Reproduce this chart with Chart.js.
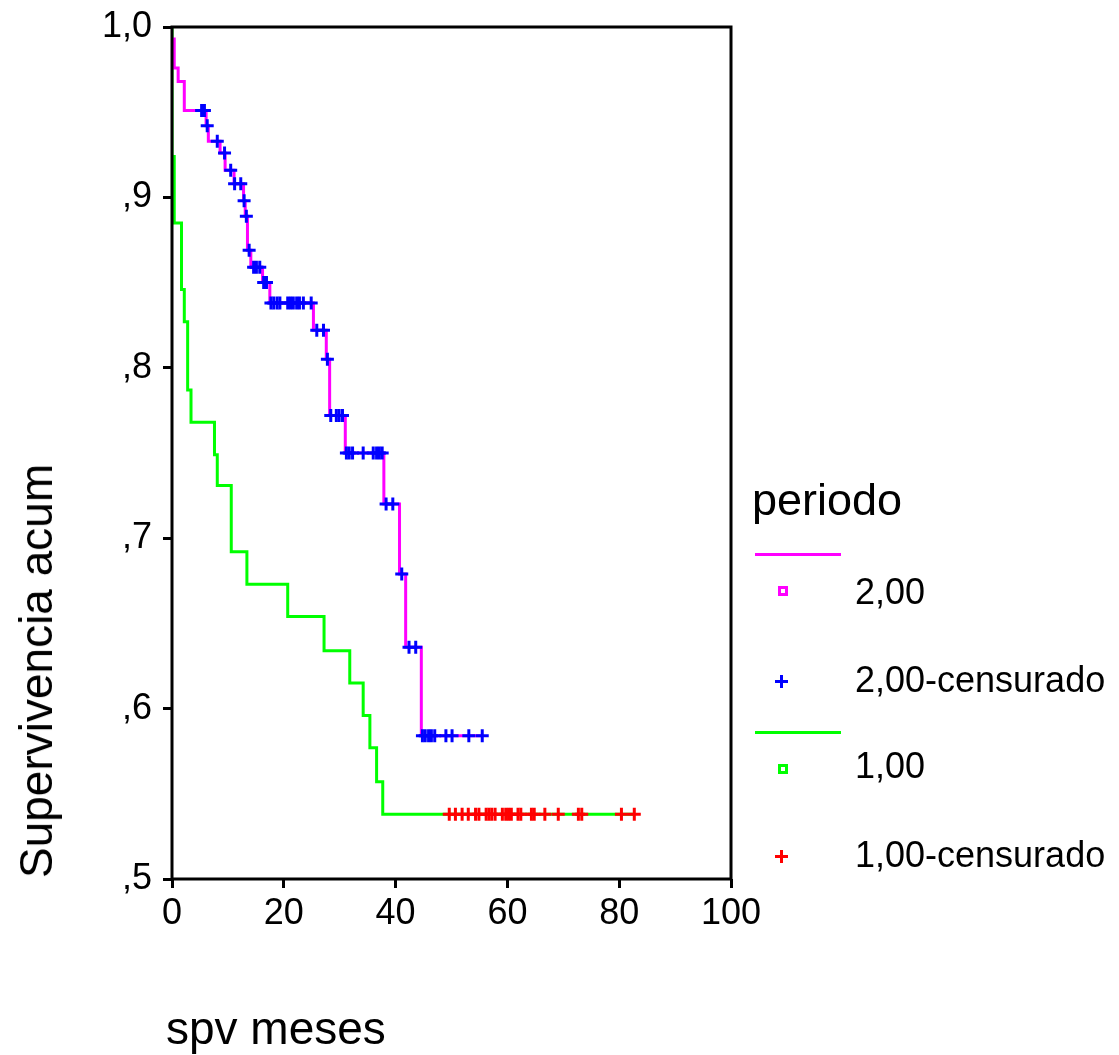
<!DOCTYPE html>
<html>
<head>
<meta charset="utf-8">
<script src="https://cdn.jsdelivr.net/npm/chart.js@4"></script>
<style>
  body { margin: 0; background: #fff; }
  #wrap { position: relative; width: 1119px; height: 1055px; font-family: 'Liberation Sans', Arial, sans-serif; color: #000; }
  canvas { position: absolute; left: 0; top: 0; }
  .txt { position: absolute; white-space: nowrap; line-height: 1; }
  .sym { position: absolute; }
</style>
</head>
<body>
<div id="wrap">
  <canvas id="km" width="1119" height="1055"></canvas>
  <div class="txt" id="ytitle" style="font-size:46px;left:36px;top:671px;transform:translate(-50%,-50%) rotate(-90deg);">Supervivencia acum</div>
  <div class="txt" style="font-size:46px;left:166px;top:1005px;">spv meses</div>

  <div class="txt" style="font-size:45px;left:752px;top:477px;">periodo</div>
  <div class="sym" style="left:755px;top:553px;width:86px;height:3px;background:#ff00ff;"></div>
  <div class="sym" style="left:778px;top:586px;width:4px;height:4px;border:3px solid #ff00ff;"></div>
  <div class="txt" style="font-size:36px;left:855px;top:574px;">2,00</div>
  <div class="sym" style="left:775px;top:680px;width:13px;height:3px;background:#0000ff;"></div>
  <div class="sym" style="left:780px;top:675px;width:3px;height:13px;background:#0000ff;"></div>
  <div class="txt" style="font-size:36px;left:855px;top:662px;">2,00-censurado</div>
  <div class="sym" style="left:755px;top:731px;width:86px;height:3px;background:#00ff00;"></div>
  <div class="sym" style="left:778px;top:764px;width:4px;height:4px;border:3px solid #00ff00;"></div>
  <div class="txt" style="font-size:36px;left:855px;top:748px;">1,00</div>
  <div class="sym" style="left:775px;top:855px;width:13px;height:3px;background:#ff0000;"></div>
  <div class="sym" style="left:780px;top:850px;width:3px;height:13px;background:#ff0000;"></div>
  <div class="txt" style="font-size:36px;left:855px;top:837px;">1,00-censurado</div>
</div>
<script>
// --- datos (meses, supervivencia acumulada) ---
const xTickLabels = ['0', '20', '40', '60', '80', '100'];
const yTickValues = [0.5, 0.6, 0.7, 0.8, 0.9, 1.0];
const yTickLabels = [',5', ',6', ',7', ',8', ',9', '1,0'];

// periodo 2,00
const pinkTimes = [0, 0.4, 1.1, 2.2, 6.1, 6.5, 8.6, 9.5, 11.1, 12.8, 13.1, 13.5, 14.1, 16.2, 17.5, 25.3, 27.6, 28.2, 31.0, 37.9, 40.7, 41.8, 44.6, 55.5];
const pinkSurv = [0.993, 0.976, 0.968, 0.951, 0.942, 0.933, 0.926, 0.916, 0.908, 0.898, 0.889, 0.869, 0.859, 0.850, 0.838, 0.822, 0.805, 0.772, 0.750, 0.720, 0.679, 0.636, 0.584, 0.584];

// periodo 2,00 censurados
const blueTimes = [5.3, 5.8, 6.3, 8.1, 9.4, 10.5, 11.2, 12.3, 12.9, 13.3, 13.8, 14.6, 15.1, 15.7, 16.4, 16.9,
  17.7, 18.2, 18.8, 19.3, 20.7, 21.2, 21.7, 22.3, 22.8, 23.5, 24.9, 25.9, 27.1, 27.8, 28.4, 29.4, 29.9, 30.5,
  31.2, 31.7, 32.3, 34.2, 36.0, 36.6, 37.1, 37.6, 38.3, 39.5, 41.1, 42.4, 43.6,
  44.8, 45.3, 45.9, 46.4, 47.0, 49.0, 50.1, 53.1, 55.5];
const blueSurv = [0.951, 0.951, 0.942, 0.933, 0.926, 0.916, 0.908, 0.908, 0.898, 0.889, 0.869, 0.859, 0.859, 0.859, 0.850, 0.850,
  0.838, 0.838, 0.838, 0.838, 0.838, 0.838, 0.838, 0.838, 0.838, 0.838, 0.838, 0.822, 0.822, 0.805, 0.772, 0.772, 0.772, 0.772,
  0.750, 0.750, 0.750, 0.750, 0.750, 0.750, 0.750, 0.750, 0.720, 0.720, 0.679, 0.636, 0.636,
  0.584, 0.584, 0.584, 0.584, 0.584, 0.584, 0.584, 0.584, 0.584];

// periodo 1,00
const greenTimes = [0, 0, 0.4, 1.7, 2.2, 2.8, 3.4, 7.6, 8.1, 10.6, 13.4, 20.7, 27.2, 31.8, 34.2, 35.4, 36.6, 37.7, 82.7];
const greenSurv = [1.0, 0.924, 0.885, 0.846, 0.827, 0.787, 0.768, 0.749, 0.731, 0.692, 0.673, 0.654, 0.634, 0.615, 0.596, 0.577, 0.557, 0.538, 0.538];

// periodo 1,00 censurados
const redTimes = [49.6, 50.7, 51.9, 53.0, 54.3, 54.9, 56.2, 56.7, 57.2, 57.8, 59.1, 59.7, 60.2, 60.7, 61.9, 62.4, 64.3, 64.8, 66.7, 69.1, 72.7, 73.3, 80.4, 82.7];
const redSurv = [0.538, 0.538, 0.538, 0.538, 0.538, 0.538, 0.538, 0.538, 0.538, 0.538, 0.538, 0.538, 0.538, 0.538, 0.538, 0.538, 0.538, 0.538, 0.538, 0.538, 0.538, 0.538, 0.538, 0.538];

function pts(xs, ys) { return xs.map((x, i) => ({ x: x, y: ys[i] })); }

// marco negro alrededor del área
const framePlugin = {
  id: 'frame',
  afterDatasetsDraw(chart) {
    const a = chart.chartArea, ctx = chart.ctx;
    ctx.save();
    ctx.strokeStyle = '#000';
    ctx.lineWidth = 3;
    ctx.strokeRect(a.left, a.top, a.right - a.left, a.bottom - a.top);
    ctx.restore();
  }
};

Chart.defaults.font.family = "'Liberation Sans', Arial, sans-serif";
Chart.defaults.color = '#000';

new Chart(document.getElementById('km'), {
  type: 'scatter',
  data: {
    datasets: [
      { data: pts(blueTimes, blueSurv), pointStyle: 'cross', pointRadius: 6.5, pointBorderWidth: 3, borderColor: '#0000ff', backgroundColor: '#0000ff', showLine: false },
      { data: pts(redTimes, redSurv), pointStyle: 'cross', pointRadius: 6.5, pointBorderWidth: 3, borderColor: '#ff0000', backgroundColor: '#ff0000', showLine: false },
      { data: pts(pinkTimes, pinkSurv), showLine: true, stepped: 'before', borderColor: '#ff00ff', borderWidth: 3, pointRadius: 0 },
      { data: pts(greenTimes, greenSurv), showLine: true, stepped: 'before', borderColor: '#00ff00', borderWidth: 3, pointRadius: 0 }
    ]
  },
  options: {
    responsive: false,
    animation: false,
    devicePixelRatio: 1,
    layout: { padding: { top: 27, right: 388, left: 0, bottom: 0 } },
    plugins: { legend: { display: false }, tooltip: { enabled: false } },
    scales: {
      x: {
        type: 'linear', min: 0, max: 100,
        afterFit: s => { s.height = 176; s.paddingLeft = 0; s.paddingRight = 0; },
        afterBuildTicks: s => { s.ticks = xTickLabels.map(t => ({ value: Number(t) })); },
        ticks: { font: { size: 36 }, padding: 4, maxRotation: 0, callback: (v, i) => xTickLabels[i] },
        grid: { drawOnChartArea: false, tickLength: 9, tickWidth: 3, tickColor: '#000' },
        border: { display: false }
      },
      y: {
        type: 'linear', min: 0.5, max: 1.0,
        afterFit: s => { s.width = 172; s.paddingTop = 0; s.paddingBottom = 0; },
        afterBuildTicks: s => { s.ticks = yTickValues.map(v => ({ value: v })); },
        ticks: { font: { size: 36 }, padding: 11, callback: (v, i) => yTickLabels[i] },
        grid: { drawOnChartArea: false, tickLength: 9, tickWidth: 3, tickColor: '#000' },
        border: { display: false }
      }
    }
  },
  plugins: [framePlugin]
});
</script>
</body>
</html>
